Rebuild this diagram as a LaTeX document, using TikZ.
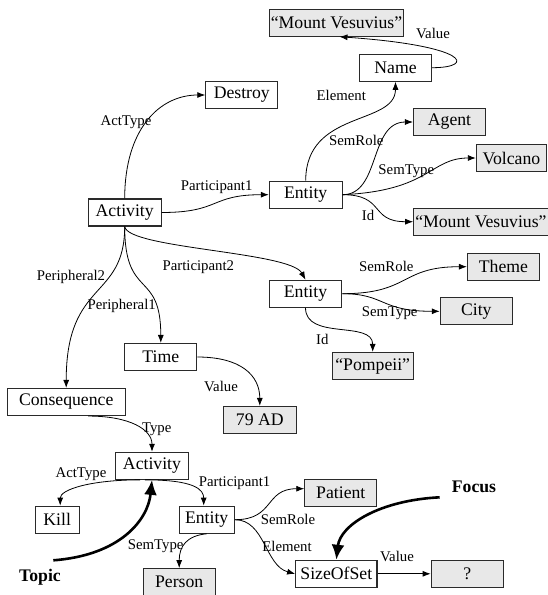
\documentclass[tikz,border=0pt]{standalone}
\usepackage{fontspec}
\setmainfont{Liberation Serif}
\usetikzlibrary{arrows.meta,calc}
\definecolor{boxfill}{HTML}{E8E8E8}
\definecolor{boxline}{HTML}{2A2A2A}
\tikzset{
  box/.style={draw=boxline,line width=1.1pt,minimum height=27pt,minimum width=72pt,inner sep=0pt,
    font=\fontsize{17.7}{20}\selectfont,fill=white},
  gbox/.style={box,fill=boxfill},
  lbl/.style={inner sep=0pt,font=\fontsize{14.8}{16}\selectfont},
  hint/.style={inner sep=0pt,font=\fontsize{17.7}{20}\selectfont\bfseries},
  conn/.style={line width=0.8pt,-{Latex[length=8pt,width=6pt]}},
  bigarrow/.style={line width=2.6pt,-{Latex[length=15pt,width=13pt]}}
}
\begin{document}
\begin{tikzpicture}[x=1pt,y=-1pt]
\useasboundingbox (0,0) rectangle (547,595);
% nodes
\node[gbox,minimum width=134.4pt] (mv1) at (336.5,22.7) {``Mount Vesuvius''};
\node[box] (name) at (395.5,67.7) {Name};
\node[box] (destroy) at (241.8,95) {Destroy};
\node[gbox] (agent) at (449.5,122) {Agent};
\node[gbox,minimum width=70pt] (volcano) at (511.4,158) {Volcano};
\node[box,minimum width=72.7pt] (act1) at (124.7,212.5) {Activity};
\node[box,minimum width=72.7pt] (ent1) at (305.7,194.7) {Entity};
\node[gbox,minimum width=134.4pt] (mv2) at (480.9,221.7) {``Mount Vesuvius''};
\node[gbox] (theme) at (503.5,266.7) {Theme};
\node[box,minimum width=72.7pt] (ent2) at (305.5,293.7) {Entity};
\node[gbox] (city) at (476.3,311.3) {City};
\node[gbox,minimum width=80.7pt] (pompeii) at (372.7,366) {``Pompeii''};
\node[box] (time) at (160.8,357) {Time};
\node[box,minimum width=117.7pt] (cons) at (66.2,402) {Consequence};
\node[gbox,minimum width=73pt] (ad) at (259.8,420) {79 AD};
\node[box,minimum width=72.7pt] (act2) at (152,465.8) {Activity};
\node[box,minimum width=44.3pt] (kill) at (57.2,519.7) {Kill};
\node[box,minimum width=55.3pt] (ent3) at (206.7,519.7) {Entity};
\node[gbox] (patient) at (340.8,492.7) {Patient};
\node[box,minimum width=81.3pt] (sos) at (336.3,573.8) {SizeOfSet};
\node[gbox] (q) at (467.2,573.8) {?};
\node[gbox] (person) at (179.2,582.2) {Person};
\node[hint] (focus) at (474,487.3) {Focus};
\node[hint] (topic) at (40,577.3) {Topic};
\coordinate (fstart) at (439.7,497.3);
\coordinate (tstart) at (53.3,560.3);
% connectors
\draw[conn] (name.east) .. controls +(44,0) and +(130,9) .. ($(mv1.south)+(3,0)$);
\draw[conn] (act1.north) .. controls +(0,-69) and +(-46,0) .. (destroy.west);
\draw[conn] (ent1.north) .. controls +(0,-71) and +(0,44) .. (name.south);
\draw[conn] (ent1.east) .. controls +(38,0) and +(-44,0) .. (agent.west);
\draw[conn] (ent1.east) .. controls +(88,-4) and +(-46,0) .. (volcano.west);
\draw[conn] (ent1.east) .. controls +(43,0) and +(-44,0) .. (mv2.west);
\draw[conn] (act1.east) .. controls +(59,0) and +(-59,0) .. (ent1.west);
\draw[conn] (act1.south) .. controls +(3,22) and +(-15.5,-28) .. (ent2.north);
\draw[conn] (act1.south) .. controls +(0,74) and +(0,-109) .. (cons.north);
\draw[conn] (act1.south) .. controls +(0,74) and +(0,-74) .. (time.north);
\draw[conn] (ent2.east) .. controls +(68,0) and +(-67,0) .. (theme.west);
\draw[conn] (ent2.east) .. controls +(43,0) and +(-60,0) .. (city.west);
\draw[conn] (ent2.south) .. controls +(0,33) and +(0,-32) .. (pompeii.north);
\draw[conn] (time.east) .. controls +(43,0) and +(0,-31) .. (ad.north);
\draw[conn] ($(cons.south)+(22,0)$) .. controls +(42,0) and +(0,-22) .. (act2.north);
\draw[conn] ($(act2.south)+(-12,0)$) .. controls +(-50,0) and +(0,-16) .. ($(kill.north)+(3,0)$);
\draw[conn] ($(act2.south)+(-7,0)$) .. controls +(50,0) and +(0,-16) .. ($(ent3.north)+(-3,0)$);
\draw[conn] (ent3.east) .. controls +(40,0) and +(-40,0) .. ($(patient.west)+(0,-4)$);
\draw[conn] (ent3.east) .. controls +(30,0) and +(-30,-8) .. (sos.west);
\draw[conn] (ent3.south) .. controls +(-20,2) and +(0,-22) .. (person.north);
\draw[conn] (sos.east) -- (q.west);
\draw[bigarrow] (tstart) .. controls +(67,-5) and +(-4,40) .. (act2.south);
\draw[bigarrow] (fstart) .. controls +(-60,3) and +(4,-35) .. (sos.north);
% labels
\node[lbl] (l1) at (433,33.3) {Value};
\node[lbl] (l2) at (341.3,95.7) {Element};
\node[lbl] (l3) at (126,122.7) {ActType};
\node[lbl] (l4) at (356.3,140) {SemRole};
\node[lbl] (l5) at (406.3,170.7) {SemType};
\node[lbl] (l6) at (216.7,187.3) {Participant1};
\node[lbl] (l7) at (368,215) {Id};
\node[lbl] (l8) at (198.3,267.3) {Participant2};
\node[lbl] (l9) at (71,276.7) {Peripheral2};
\node[lbl] (l10) at (386.3,266.7) {SemRole};
\node[lbl] (l11) at (121.7,306.3) {Peripheral1};
\node[lbl] (l12) at (389.7,313) {SemType};
\node[lbl] (l13) at (322.3,339.7) {Id};
\node[lbl] (l14) at (221,386.3) {Value};
\node[lbl] (l15) at (156.7,429.7) {Type};
\node[lbl] (l16) at (81,474) {ActType};
\node[lbl] (l17) at (234.6,483) {Participant1};
\node[lbl] (l18) at (288,519.7) {SemRole};
\node[lbl] (l19) at (155.7,546.3) {SemType};
\node[lbl] (l20) at (287,546.3) {Element};
\node[lbl] (l21) at (397,556.3) {Value};
\end{tikzpicture}
\end{document}
